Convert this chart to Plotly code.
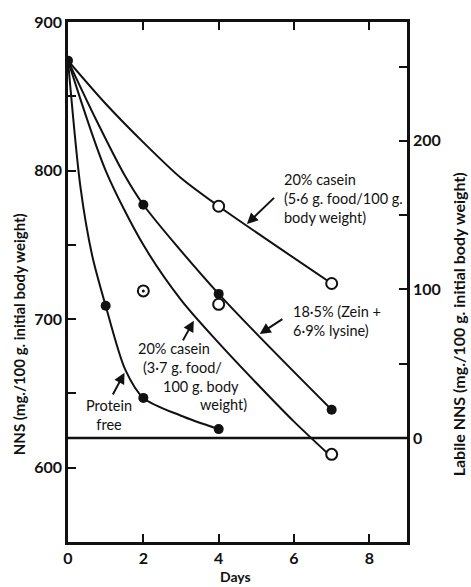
import plotly.graph_objects as go

# ---- data (Days vs NNS, mg./100 g initial body weight) ----
start_day = [0]
start_nns = [874]

# 20% casein (5.6 g food/100 g body weight) - open circles
c56_days = [4, 7]
c56_nns = [776, 724]
c56_curve_days = [0, 1, 2, 3, 4, 7]
c56_curve_nns = [874, 845, 819, 795, 776, 724]

# 18.5% (Zein + 6.9% lysine) - filled circles
zein_days = [2, 4, 7]
zein_nns = [777, 717, 639]
zein_curve_days = [0, 0.75, 1.5, 2, 4, 7]
zein_curve_nns = [874, 834, 797, 777, 717, 639]

# 20% casein (3.7 g food/100 g body weight) - open circle at end
c37_days = [7]
c37_nns = [609]
c37_curve_days = [0, 1, 2, 3, 4, 5, 6, 6.92]
c37_curve_nns = [874, 800, 750, 713, 684, 657, 631, 609]

# isolated open circles
iso_days = [4]
iso_nns = [710]
dot_days = [2]
dot_nns = [719]

# Protein free - filled circles
pf_days = [1, 2, 4]
pf_nns = [709, 647, 626]
pf_curve_days = [0, 0.33, 0.64, 1, 1.52, 2, 3, 4]
pf_curve_nns = [874, 789, 743, 709, 666, 647, 635, 626]

# labile NNS zero line (right axis)
base_days = [0, 9]
base_labile = [0, 0]

x_ticks = [0, 2, 4, 6, 8]
x_ticktext = ["0", "2", "4", "6", "8"]
y_ticks = [600, 650, 700, 750, 800, 850, 900]
y_ticktext = ["600", "", "700", "", "800", "", "900"]
y2_ticks = [0, 50, 100, 150, 200, 250]
y2_ticktext = ["0", "", "100", "", "200", ""]

FONT = "Lato"
BLACK = "#111111"

fig = go.Figure()

line = dict(color=BLACK, width=2, shape="spline", smoothing=0.8)
for xs, ys in [(c56_curve_days, c56_curve_nns), (zein_curve_days, zein_curve_nns),
               (c37_curve_days, c37_curve_nns), (pf_curve_days, pf_curve_nns)]:
    fig.add_trace(go.Scatter(x=xs, y=ys, mode="lines", line=line, hoverinfo="skip"))

fig.add_trace(go.Scatter(x=base_days, y=base_labile, yaxis="y2", mode="lines",
                         line=dict(color=BLACK, width=2.5), hoverinfo="skip"))

filled = dict(symbol="circle", size=10, color=BLACK, line=dict(width=0))
opened = dict(symbol="circle", size=11, color="white", line=dict(color=BLACK, width=2))
fig.add_trace(go.Scatter(x=start_day + zein_days + pf_days, y=start_nns + zein_nns + pf_nns,
                         mode="markers", marker=filled))
fig.add_trace(go.Scatter(x=c56_days + c37_days + iso_days, y=c56_nns + c37_nns + iso_nns,
                         mode="markers", marker=opened))
fig.add_trace(go.Scatter(x=dot_days, y=dot_nns, mode="markers", marker=opened))
fig.add_trace(go.Scatter(x=dot_days, y=dot_nns, mode="markers",
                         marker=dict(symbol="circle", size=3, color=BLACK)))

ann_font = dict(family=FONT, size=14.5, color=BLACK)
annotations = [
    dict(x=5.68, y=781, text="20% casein<br>(5·6 g. food/100 g.<br>body weight)",
         xanchor="left", yanchor="middle", align="left"),
    dict(x=5.91, y=699, text="18·5% (Zein +<br>6·9% lysine)",
         xanchor="left", yanchor="middle", align="left"),
    dict(x=2.82, y=680.5, text="20% casein", xanchor="center", yanchor="middle"),
    dict(x=3.04, y=667.3, text="(3·7 g. food/", xanchor="center", yanchor="middle"),
    dict(x=3.54, y=654.7, text="100 g. body", xanchor="center", yanchor="middle"),
    dict(x=4.12, y=642.8, text="weight)", xanchor="center", yanchor="middle"),
    dict(x=1.08, y=635.6, text="Protein<br>free", xanchor="center", yanchor="middle",
         align="center"),
]
for a in annotations:
    a.update(xref="x", yref="y", showarrow=False, font=ann_font)

arrows = [
    ((4.75, 764), (5.51, 782.6)),
    ((5.09, 690), (5.73, 700.7)),
    ((3.34, 699), (3.03, 684.7)),
    ((1.5, 664), (1.17, 648.3)),
]
for (hx, hy), (tx, ty) in arrows:
    annotations.append(dict(x=hx, y=hy, ax=tx, ay=ty, xref="x", yref="y", axref="x", ayref="y",
                            text="", showarrow=True, arrowhead=2, arrowsize=1.1,
                            arrowwidth=2, arrowcolor=BLACK))

title_font = dict(family=FONT, size=15, color=BLACK, weight=700)
annotations += [
    dict(x=-0.144, y=0.40, xref="paper", yref="paper", text="NNS (mg./100 g. initial body weight)",
         textangle=-90, showarrow=False, font=title_font, xanchor="center", yanchor="middle"),
    dict(x=1.151, y=0.419, xref="paper", yref="paper",
         text="Labile NNS (mg./100 g. initial body weight)",
         textangle=-90, showarrow=False, font=dict(family=FONT, size=16, color=BLACK, weight=700),
         xanchor="center", yanchor="middle"),
    dict(x=0.494, y=-0.067, xref="paper", yref="paper", text="Days", showarrow=False,
         font=dict(family=FONT, size=14, color=BLACK, weight=700), xanchor="center", yanchor="middle"),
]

tick_font = dict(family=FONT, size=16, color=BLACK, weight=700)
axis_common = dict(showline=True, linecolor=BLACK, linewidth=2.5, ticks="inside", ticklen=8,
                   tickwidth=2, tickcolor=BLACK, showgrid=False, zeroline=False,
                   tickfont=tick_font)

fig.update_layout(
    width=471, height=587,
    margin=dict(l=68, r=64, t=13, b=45),
    paper_bgcolor="white", plot_bgcolor="white",
    showlegend=False,
    xaxis=dict(range=[0, 9], tickmode="array", tickvals=x_ticks, ticktext=x_ticktext,
               mirror="ticks", **axis_common),
    yaxis=dict(range=[550, 900], tickmode="array", tickvals=y_ticks, ticktext=y_ticktext,
               **axis_common),
    yaxis2=dict(range=[-70, 280], tickmode="array", tickvals=y2_ticks, ticktext=y2_ticktext,
                overlaying="y", side="right", **axis_common),
    annotations=annotations,
)

fig.write_html("out.html")
